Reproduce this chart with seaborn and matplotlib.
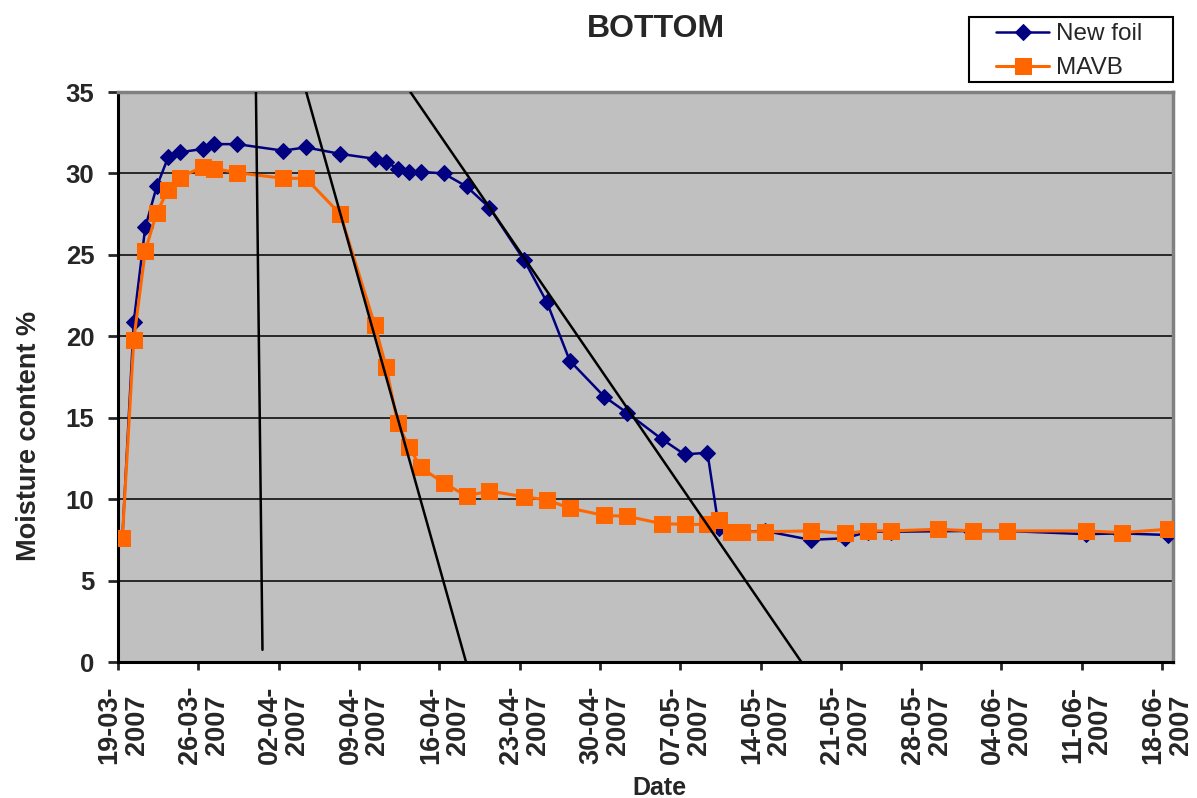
import numpy as np
import pandas as pd
import seaborn as sns
import matplotlib
matplotlib.use('Agg')
import matplotlib.pyplot as plt
import matplotlib.dates as mdates
import matplotlib.transforms as mtransforms
from matplotlib.patches import Rectangle

# New foil (blue diamonds)
new_foil_dates = ['2007-03-19 09:00', '2007-03-20 09:00', '2007-03-21 09:00', '2007-03-22 09:00',
                  '2007-03-23 09:00', '2007-03-24 09:00', '2007-03-26 09:00', '2007-03-27 09:00',
                  '2007-03-29 09:00', '2007-04-02 09:00', '2007-04-04 09:00', '2007-04-07 09:00',
                  '2007-04-10 09:00', '2007-04-11 09:00', '2007-04-12 09:00', '2007-04-13 09:00',
                  '2007-04-14 09:00', '2007-04-16 09:00', '2007-04-18 09:00', '2007-04-20 09:00',
                  '2007-04-23 09:00', '2007-04-25 09:00', '2007-04-27 09:00', '2007-04-30 09:00',
                  '2007-05-02 09:00', '2007-05-05 09:00', '2007-05-07 09:00', '2007-05-09 09:00',
                  '2007-05-10 09:00', '2007-05-11 11:00', '2007-05-12 09:00', '2007-05-14 09:00',
                  '2007-05-18 09:00', '2007-05-21 09:00', '2007-05-23 09:00', '2007-05-25 09:00',
                  '2007-06-01 09:00', '2007-06-04 09:00', '2007-06-11 09:00', '2007-06-14 09:00',
                  '2007-06-18 12:00']
new_foil_vals = [7.6, 20.9, 26.7, 29.2, 31.0, 31.3, 31.5, 31.8,
                 31.8, 31.4, 31.6, 31.2, 30.9, 30.7, 30.3, 30.1,
                 30.1, 30.0, 29.2, 27.9, 24.7, 22.1, 18.5, 16.3,
                 15.3, 13.7, 12.75, 12.85, 8.2, 8.0, 8.0, 8.05,
                 7.5, 7.6, 8.0, 8.0, 8.05, 8.05, 7.85, 7.9, 7.8]

# MAVB (orange squares)
mavb_dates = ['2007-03-19 09:00', '2007-03-20 09:00', '2007-03-21 09:00', '2007-03-22 09:00',
              '2007-03-23 09:00', '2007-03-24 09:00', '2007-03-26 09:00', '2007-03-27 09:00',
              '2007-03-29 09:00', '2007-04-02 09:00', '2007-04-04 09:00', '2007-04-07 09:00',
              '2007-04-10 09:00', '2007-04-11 09:00', '2007-04-12 09:00', '2007-04-13 09:00',
              '2007-04-14 09:00', '2007-04-16 09:00', '2007-04-18 09:00', '2007-04-20 09:00',
              '2007-04-23 09:00', '2007-04-25 09:00', '2007-04-27 09:00', '2007-04-30 09:00',
              '2007-05-02 09:00', '2007-05-05 09:00', '2007-05-07 09:00', '2007-05-09 09:00',
              '2007-05-10 09:00', '2007-05-11 11:00', '2007-05-12 09:00', '2007-05-14 09:00',
              '2007-05-18 09:00', '2007-05-21 09:00', '2007-05-23 09:00', '2007-05-25 09:00',
              '2007-05-29 12:00', '2007-06-01 12:00', '2007-06-04 11:00', '2007-06-11 09:00',
              '2007-06-14 12:00', '2007-06-18 12:00']
mavb_vals = [7.6, 19.8, 25.25, 27.6, 29.0, 29.75, 30.4, 30.3,
             30.05, 29.7, 29.7, 27.5, 20.7, 18.1, 14.65, 13.2,
             11.95, 11.0, 10.2, 10.5, 10.15, 9.95, 9.45, 9.0,
             8.95, 8.5, 8.45, 8.45, 8.7, 8.0, 8.0, 8.0,
             8.05, 7.9, 8.05, 8.05, 8.15, 8.05, 8.05, 8.05,
             7.95, 8.15]

# hand-drawn trend lines (start, end)
trend_dates = [['2007-03-31 00:30', '2007-03-31 14:10'],
               ['2007-04-04 09:40', '2007-04-18 08:00'],
               ['2007-04-13 11:30', '2007-05-17 13:30']]
trend_vals = [[35, 0.75], [35, 0], [35, 0]]

tick_dates = pd.date_range('2007-03-19', '2007-06-18', freq='7D')

sns.set_style('white')
plt.rcParams['font.family'] = ['Liberation Sans', 'DejaVu Sans']
plt.rcParams['font.weight'] = 'bold'

fig = plt.figure(figsize=(11.97, 7.98), dpi=100)
ax = fig.add_axes([0.0986, 0.1704, 0.8814, 0.7143])
ax.set_facecolor('#C0C0C0')

df_new = pd.DataFrame({'date': pd.to_datetime(new_foil_dates), 'val': new_foil_vals})
df_mavb = pd.DataFrame({'date': pd.to_datetime(mavb_dates), 'val': mavb_vals})

for d, v in zip(trend_dates, trend_vals):
    sns.lineplot(x=pd.to_datetime(d), y=v, ax=ax, color='black', lw=1.8, zorder=4,
                 estimator=None, sort=False)

sns.lineplot(data=df_new, x='date', y='val', ax=ax, color='#000080', lw=1.8,
             marker='D', markersize=8, markeredgecolor='#000080', estimator=None,
             sort=False, label='New foil', zorder=3)
sns.lineplot(data=df_mavb, x='date', y='val', ax=ax, color='#FF6600', lw=2.2,
             marker='s', markersize=11.5, markeredgecolor='#FF6600', estimator=None,
             sort=False, label='MAVB', zorder=3)

ax.set_ylim(0, 35)
ax.set_yticks(np.arange(0, 36, 5))
ax.set_xlim(pd.Timestamp('2007-03-19'), pd.Timestamp('2007-06-18 23:00'))
ax.set_xticks(tick_dates)
ax.xaxis.set_major_formatter(mdates.DateFormatter('%d-%m-\n%Y'))
ax.tick_params(axis='x', labelrotation=90, labelsize=19.5, length=6, width=2, pad=11, direction='out', bottom=True)
ax.tick_params(axis='y', labelsize=18.5, length=7, width=2, pad=10, direction='out', left=True)
shift = mtransforms.ScaledTranslation(5 / 100, 0, fig.dpi_scale_trans)
for lab in ax.get_xticklabels():
    lab.set_fontweight('bold')
    lab.set_linespacing(1.05)
    lab.set_transform(lab.get_transform() + shift)
for lab in ax.get_yticklabels():
    lab.set_fontweight('bold')

ax.grid(axis='y', color='black', lw=1.1)
ax.grid(axis='x', visible=False)
ax.set_axisbelow(True)

for s in ['left', 'bottom']:
    ax.spines[s].set_color('black')
    ax.spines[s].set_linewidth(2.2)
for s in ['top', 'right']:
    ax.spines[s].set_color('#808080')
    ax.spines[s].set_linewidth(2.5)

ax.set_xlabel('Date', fontsize=18, fontweight='bold')
ax.xaxis.set_label_coords(0.513, -0.2)
ax.set_ylabel('Moisture content %', fontsize=19.5, fontweight='bold')
ax.yaxis.set_label_coords(-0.072, 0.397)
fig.text(656 / 1197, 1 - 29 / 798, 'BOTTOM', ha='center', va='center', fontsize=23, fontweight='bold')

# legend: Excel-style box above the top-right of the plot area
ax.legend_.remove()
h, l = ax.get_legend_handles_labels()
leg = fig.legend(h, l, loc='upper left', bbox_to_anchor=(996 / 1197, 1 - 23 / 798),
                 fontsize=17.5, frameon=False, borderpad=0, handlelength=2.2,
                 handletextpad=0.25, labelspacing=0.5, borderaxespad=0)
for t in leg.get_texts():
    t.set_fontweight('normal')
fig.add_artist(Rectangle((969 / 1197, 1 - 82 / 798), 204 / 1197, 65 / 798,
                         transform=fig.transFigure, fill=False, ec='black', lw=1.5))

fig.savefig('out.png', dpi=100)
